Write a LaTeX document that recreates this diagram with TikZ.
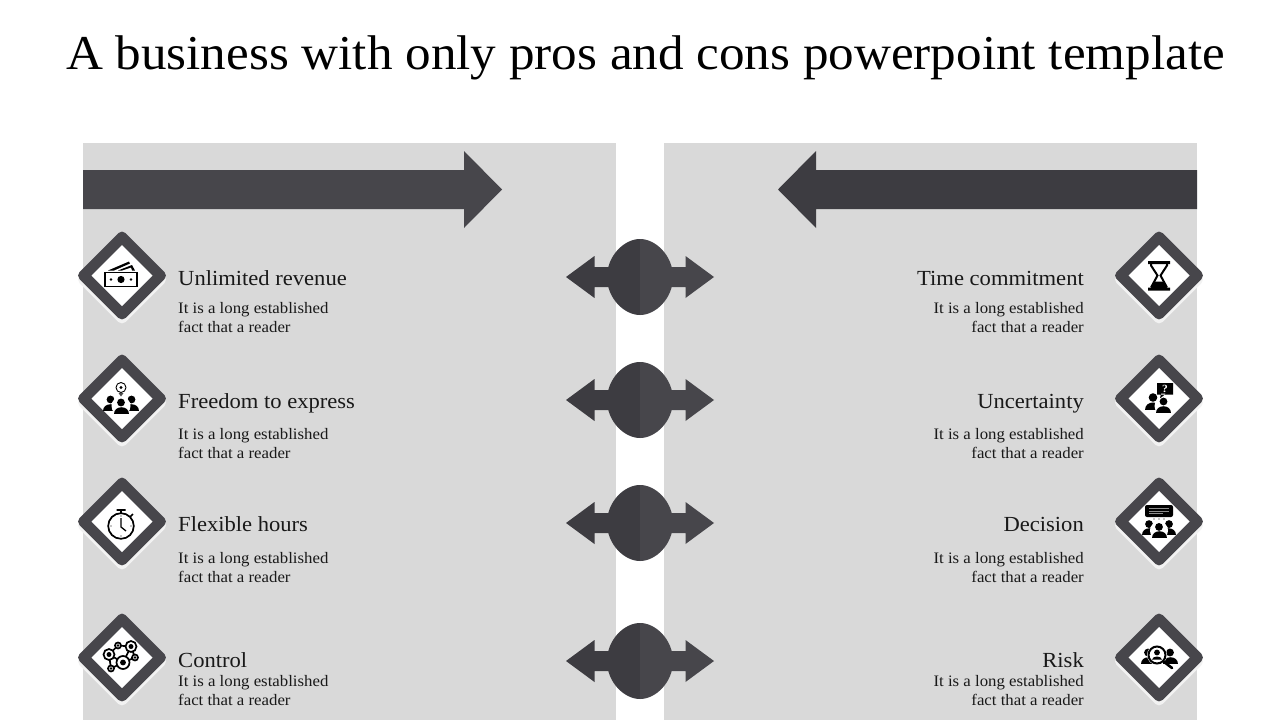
\documentclass[tikz,border=0pt]{standalone}
\usepackage{fontspec}
\setmainfont[FakeStretch=1.05]{Liberation Serif}
\definecolor{panelgrey}{HTML}{D9D9D9}
\definecolor{darkslate}{HTML}{3D3C41}
\definecolor{midslate}{HTML}{47464B}
\definecolor{shadowgrey}{HTML}{F2F2F2}
\tikzset{
  titletext/.style={font=\fontsize{48.7}{50}\selectfont, anchor=base, inner sep=0pt},
  headtext/.style={font=\fontsize{21.5}{24}\selectfont, inner sep=0pt, text=black!90},
  bodytext/.style={font=\fontsize{16}{19}\selectfont, inner sep=0pt, text=black!90},
  iconline/.style={draw=black, line width=1.7pt},
  pics/badge/.style={code={
    \fill[shadowgrey, rounded corners=5pt] (0,-42) -- (46,4) -- (0,50) -- (-46,4) -- cycle;
    \fill[midslate, rounded corners=5pt] (0,-46) -- (46,0) -- (0,46) -- (-46,0) -- cycle;
    \fill[white] (0,-30.5) -- (30.5,0) -- (0,30.5) -- (-30.5,0) -- cycle;
  }},
  pics/lensarrow/.style={code={
    \fill[darkslate] (0,-38) .. controls (-16,-38) and (-33,-21) .. (-33,0) .. controls (-33,21) and (-16,38) .. (0,38) -- cycle;
    \fill[darkslate] (-30,-10) -- (-45.5,-10) -- (-45.5,-21) -- (-74,0) -- (-45.5,21) -- (-45.5,10) -- (-30,10) -- cycle;
    \fill[midslate] (0,-38) .. controls (16,-38) and (33,-21) .. (33,0) .. controls (33,21) and (16,38) .. (0,38) -- cycle;
    \fill[midslate] (30,-10) -- (45.5,-10) -- (45.5,-21) -- (74,0) -- (45.5,21) -- (45.5,10) -- (30,10) -- cycle;
  }},
  pics/person/.style={code={
    \fill[black] (0,-5) circle (3.9);
    \fill[black] (-7.5,6) .. controls (-7.5,-3) and (7.5,-3) .. (7.5,6) -- cycle;
  }},
  pics/crowd/.style={code={
    \pic at (-10.5,-1.5) {person};
    \pic at (10.5,-1.5) {person};
    \fill[white] (0,0) circle (9.5);
    \pic at (0,1.5) {person};
  }}
}
\begin{document}
\begin{tikzpicture}[x=1pt,y=-1pt]
  \useasboundingbox (0,0) rectangle (1280,720);
  \fill[white] (0,0) rectangle (1280,720);
  \fill[panelgrey] (83,143) rectangle (616,720);
  \fill[panelgrey] (664,143) rectangle (1197,720);
  \node[titletext] (title) at (645.5,69) {A business with only pros and cons powerpoint template};

  % big arrows
  \fill[midslate] (83,170) -- (464,170) -- (464,151) -- (502,189.5) -- (464,228) -- (464,209) -- (83,209) -- cycle;
  \fill[darkslate] (1197,170) -- (816,170) -- (816,151) -- (778,189.5) -- (816,228) -- (816,209) -- (1197,209) -- cycle;

  % middle column
  \foreach \y in {277,400,523,661}
    \pic at (640,\y) {lensarrow};

  % badges
  \foreach \y in {275.5,398.5,521.5,657.5} {
    \pic at (122,\y) {badge};
    \pic at (1159,\y) {badge};
  }

  % left labels
  \foreach \n/\y/\lab in {1/285/Unlimited revenue,2/408/Freedom to express,3/531/Flexible hours,4/667/Control}
    \node[headtext, anchor=base west] (prohead\n) at (178,\y) {\lab};
  \foreach \n/\y in {1/313,2/439,3/563,4/686} {
    \node[bodytext, anchor=base west] (probodya\n) at (178,\y) {It is a long established};
    \node[bodytext, anchor=base west] (probodyb\n) at (178,\y+19) {fact that a reader};
  }

  % right labels
  \foreach \n/\y/\lab in {1/285/Time commitment,2/408/Uncertainty,3/531/Decision,4/667/Risk}
    \node[headtext, anchor=base east] (conhead\n) at (1084,\y) {\lab};
  \foreach \n/\y in {1/313,2/439,3/563,4/686} {
    \node[bodytext, anchor=base east] (conbodya\n) at (1084,\y) {It is a long established};
    \node[bodytext, anchor=base east] (conbodyb\n) at (1084,\y+19) {fact that a reader};
  }

  % money
  \begin{scope}[shift={(121,275.5)}]
    \draw[iconline] (-16,-3) rectangle (16,11);
    \fill[black] (0,4) circle (3.6);
    \fill[black] (-10,4) circle (1.3) (10,4) circle (1.3);
    \fill[black] (-13,-5) -- (8,-14) -- (9,-12) -- (-7,-5) -- cycle;
    \fill[black] (-3,-5) -- (11,-10.5) -- (14,-5) -- (11,-5) -- (10,-8) -- (1,-5) -- cycle;
  \end{scope}

  % people with bulb
  \begin{scope}[shift={(121,398.5)}]
    \pic at (0,7.5) {crowd};
    \draw[black, line width=0.9pt] (0,-11) circle (5);
    \fill[black] (0,-11) circle (1.6);
    \fill[black!70] (-2.5,-5.5) -- (2.5,-5.5) -- (0,-2) -- cycle;
  \end{scope}

  % stopwatch
  \begin{scope}[shift={(121,526)}]
    \draw[iconline] (0,0) circle (12.8);
    \draw[iconline] (-4.5,-16) -- (4.5,-16) (0,-16) -- (0,-12.5) (9,-9) -- (12,-12);
    \draw[black, line width=1.3pt] (0,-8) -- (0,1) -- (5,5);
    \fill[black] (0,-10) circle (.6) (10,0) circle (.6) (0,10) circle (.6) (-10,0) circle (.6);
  \end{scope}

  % network
  \begin{scope}[shift={(122,657.5)}]
    \draw[iconline] (-13,-3) -- (-4,-12) -- (9,-11) -- (13,0) -- (1,5) -- (-11,11) -- (-13,-3) -- (1,5) -- (9,-11);
    \foreach \cx/\cy/\r in {-13/-3/5.5,-4/-12/3,9/-11/5.5,13/0/3,1/5/6.5,-11/11/3} {
      \fill[white] (\cx,\cy) circle (\r);
      \draw[iconline] (\cx,\cy) circle (\r);
      \fill[black] (\cx,\cy) circle (\r*0.45);
    }
  \end{scope}

  % hourglass
  \begin{scope}[shift={(1159,275.5)}]
    \fill[black] (-11,-14.5) rectangle (11,-11.5) (-11,12) rectangle (11,15);
    \draw[black, line width=2pt] (-8,-12) -- (-8,-10) -- (-1.5,0) -- (-8,12) (8,-12) -- (8,-10) -- (1.5,0) -- (8,12);
    \fill[black] (-8,13) -- (-5,6) -- (5,6) -- (8,13) -- cycle;
  \end{scope}

  % question
  \begin{scope}[shift={(1159,398.5)}]
    \fill[black] (-2,-15.5) rectangle (14,-4) (2,-5) -- (7,-5) -- (1,0) -- cycle;
    \node[text=white, font=\bfseries\fontsize{11}{11}\selectfont, inner sep=0pt] (questionmark) at (6,-9.5) {?};
    \pic[scale=1.1] at (-6,4.5) {person};
    \fill[white] (4,7.5) circle (8.5);
    \pic at (4.5,8) {person};
  \end{scope}

  % meeting
  \begin{scope}[shift={(1159,521.5)}]
    \fill[black, rounded corners=2pt] (-14,-16.5) rectangle (14,-4.5);
    \draw[black!45, line width=1pt] (-10,-13) -- (10,-13) (-10,-10.5) -- (10,-10.5) (-10,-8) -- (4,-8);
    \fill[black] (-5,-2.5) circle (.7) (0,-2.5) circle (.7) (5,-2.5) circle (.7);
    \pic[scale=.95] at (0,9) {crowd};
  \end{scope}

  % search
  \begin{scope}[shift={(1159,657.5)}]
    \pic at (-11,0) {person};
    \pic at (11,0) {person};
    \fill[white] (-2,-2.5) circle (10);
    \draw[black, line width=2pt] (-2,-2.5) circle (8.5);
    \fill[black] (-2,-5) circle (2.9);
    \fill[black] (-7,2) .. controls (-6,-2) and (2,-2) .. (3,2) -- cycle;
    \draw[black, line width=2.6pt, line cap=round] (4.5,4) -- (13,10.5);
  \end{scope}
\end{tikzpicture}
\end{document}
